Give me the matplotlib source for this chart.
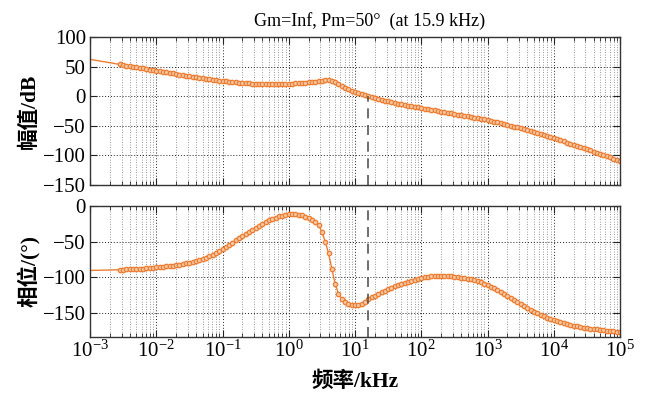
import numpy as np
import matplotlib
matplotlib.use("Agg")
import matplotlib.pyplot as plt
from matplotlib.ticker import LogLocator, NullFormatter, FixedLocator

# ---------------- data ----------------
log_freq_start = -3.0
log_freq_step = 0.05
magnitude_db = [
    62.3, 61.3, 60.4, 59.4, 58.5, 57.5, 56.6, 55.6, 54.6, 53.7,
    52.7, 51.8, 50.8, 49.9, 48.9, 47.9, 47.0, 46.0, 45.0, 44.1,
    43.1, 42.2, 41.2, 40.3, 39.4, 38.4, 37.5, 36.6, 35.6, 34.7,
    33.8, 32.9, 32.0, 31.1, 30.3, 29.5, 28.7, 27.9, 27.1, 26.4,
    25.7, 25.0, 24.4, 23.8, 23.3, 22.8, 22.4, 22.0, 21.6, 21.3,
    21.1, 20.9, 20.7, 20.6, 20.5, 20.5, 20.5, 20.6, 20.7, 20.9,
    21.1, 21.3, 21.6, 22.0, 22.4, 22.9, 23.4, 24.0, 24.7, 25.5,
    26.4, 27.2, 27.4, 26.0, 23.5, 20.6, 17.6, 14.2, 11.4, 9.2,
    7.3, 5.8, 3.9, 2.1, 0.3, -1.3, -2.9, -4.4, -5.9, -7.3,
    -8.7, -10.0, -11.2, -12.4, -13.6, -14.7, -15.8, -16.9, -18.0, -19.0,
    -20.0, -21.0, -22.0, -23.0, -24.0, -25.0, -26.0, -27.0, -28.0, -29.0,
    -30.0, -31.0, -32.0, -33.0, -34.1, -35.1, -36.2, -37.3, -38.4, -39.3,
    -40.2, -41.5, -42.9, -44.3, -45.7, -47.1, -48.5, -49.9, -51.3, -52.8,
    -54.3, -55.9, -57.5, -59.1, -60.8, -62.5, -64.2, -65.9, -67.6, -69.3,
    -71.0, -72.8, -74.6, -76.4, -78.3, -80.2, -82.1, -84.0, -85.9, -87.8,
    -89.7, -91.6, -93.5, -95.5, -97.4, -99.4, -101.3, -103.3, -105.3, -107.2,
    -109.2,
]
phase_deg = [
    -90.4, -90.3, -90.2, -90.1, -90.0, -89.9, -89.8, -89.7, -89.6, -89.4,
    -89.2, -89.0, -88.8, -88.6, -88.3, -88.0, -87.7, -87.4, -87.0, -86.6,
    -86.2, -85.8, -85.3, -84.8, -84.2, -83.6, -82.9, -82.1, -81.3, -80.4,
    -79.4, -78.3, -77.1, -75.7, -74.1, -72.3, -70.3, -68.1, -65.6, -62.9,
    -60.0, -57.1, -54.2, -51.2, -48.2, -45.1, -42.0, -38.9, -35.9, -33.0,
    -30.2, -27.5, -24.9, -22.4, -20.1, -18.0, -16.2, -14.7, -13.4, -12.4,
    -11.8, -11.5, -11.6, -12.2, -13.3, -14.8, -16.2, -19.0, -22.3, -27.0,
    -36.0, -50.0, -66.0, -88.0, -109.0, -123.0, -130.5, -134.5, -137.0, -138.3,
    -138.7, -138.3, -137.0, -134.6, -130.5, -128.2, -126.0, -123.6, -121.2, -118.9,
    -116.7, -114.6, -112.6, -110.7, -109.0, -107.4, -106.0, -104.6, -103.3, -102.1,
    -101.0, -100.1, -99.3, -98.7, -98.3, -98.0, -97.9, -97.9, -98.1, -98.5,
    -99.1, -99.7, -100.5, -101.2, -102.0, -102.9, -103.9, -105.3, -107.0, -108.8,
    -110.7, -113.0, -115.5, -118.1, -120.7, -123.4, -126.1, -128.8, -132.0, -135.0,
    -137.8, -140.5, -143.0, -145.4, -148.0, -150.3, -152.5, -154.6, -156.6, -158.5,
    -160.3, -161.9, -163.3, -164.6, -165.8, -166.9, -167.9, -168.8, -169.6, -170.4,
    -171.1, -171.8, -172.4, -173.0, -173.6, -174.1, -174.6, -175.1, -175.6, -176.0,
    -176.5,
]
crossover_khz = 15.9
title_text = "Gm=Inf, Pm=50\u00b0  (at 15.9 kHz)"
mag_ticks = [-150, -100, -50, 0, 50, 100]
phase_ticks = [-150, -100, -50, 0]

n = len(magnitude_db)
freq = 10.0 ** (log_freq_start + log_freq_step * np.arange(n))
first_marker = 9

# ---------------- style ----------------
orange = "#EE7D31"
serif = ["Liberation Serif", "Noto Sans CJK SC"]
plt.rcParams["font.family"] = serif
plt.rcParams["mathtext.fontset"] = "stix"
plt.rcParams["axes.unicode_minus"] = True

fig = plt.figure(figsize=(6.48, 3.94), dpi=100)
ax1 = fig.add_axes([0.1389, 0.5305, 0.8179, 0.3755])
ax2 = fig.add_axes([0.1389, 0.1459, 0.8179, 0.3313])


def style_axis(ax):
    ax.set_xscale("log")
    ax.set_xlim(1e-3, 1e5)
    ax.xaxis.set_major_locator(LogLocator(base=10, numticks=20))
    ax.xaxis.set_minor_locator(LogLocator(base=10, subs=np.arange(2, 10), numticks=200))
    ax.xaxis.set_minor_formatter(NullFormatter())
    ax.grid(True, which="major", linestyle=(0, (1, 2)), color="#222222", linewidth=0.7)
    ax.grid(True, which="minor", axis="x", linestyle=(0, (1, 2)), color="#777777", linewidth=0.6)
    ax.tick_params(which="both", direction="in", top=True, right=True,
                   labelsize=15, colors="#222222", labelcolor="black", pad=3)
    ax.tick_params(which="major", length=5)
    ax.tick_params(which="minor", length=3)
    for s in ax.spines.values():
        s.set_color("#333333")
        s.set_linewidth(1.0)
    ax.set_axisbelow(True)


style_axis(ax1)
style_axis(ax2)

line_kw = dict(color=orange, linewidth=1.0, marker="o", markersize=3.2,
               markerfacecolor="#F8C7A3", markeredgecolor=orange, markeredgewidth=0.9,
               markevery=(first_marker, 1))

ax1.plot(freq, magnitude_db, **line_kw)
ax1.set_ylim(-150, 100)
ax1.yaxis.set_major_locator(FixedLocator(mag_ticks))
ax1.tick_params(axis="x", which="both", labelbottom=False)
ax1.plot([crossover_khz, crossover_khz], [-150, 0], color="#555555",
         linestyle=(0, (6, 4)), linewidth=1.2)
ax1.set_ylabel("幅值/dB", fontsize=15.5, fontweight="bold", labelpad=2)
ax1.set_title(title_text, fontsize=13, pad=8, x=0.528)

ax2.plot(freq, phase_deg, **line_kw)
ax2.set_ylim(-183, 0)
ax2.yaxis.set_major_locator(FixedLocator(phase_ticks))
ax2.plot([crossover_khz, crossover_khz], [-183, 0], color="#555555",
         linestyle=(0, (6, 4)), linewidth=1.2)
ax2.set_ylabel("相位/(°)", fontsize=15.5, fontweight="bold", labelpad=2)
ax2.set_xlabel("频率/kHz", fontsize=15.5, fontweight="bold", labelpad=7)

fig.savefig("out.png", dpi=100)
